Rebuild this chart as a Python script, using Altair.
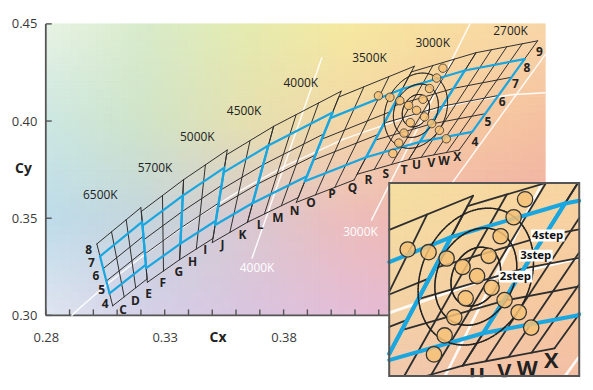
import altair as alt
import numpy as np
import pandas as pd

# ---------------- data ----------------
X_DOMAIN = [0.28, 0.49]
Y_DOMAIN = [0.30, 0.45]
X_TICK_VALUES = [0.28, 0.29, 0.30, 0.31, 0.32, 0.33, 0.34, 0.35, 0.36, 0.37, 0.38,
                 0.39, 0.40, 0.41, 0.42, 0.43, 0.44, 0.45, 0.46, 0.47, 0.48]
X_LABEL_VALUES = [0.28, 0.33, 0.38]
Y_TICK_VALUES = [0.30, 0.35, 0.40, 0.45]

# ANSI quadrangles (blue), corners bottom-left, bottom-right, top-right, top-left
QUAD_CCT = ["6500K", "5700K", "5000K", "4500K", "4000K", "3500K", "3000K", "2700K"]
QUAD_BL = [(0.3068, 0.3113), (0.3222, 0.3243), (0.3366, 0.3369), (0.3512, 0.3465),
           (0.3670, 0.3578), (0.3889, 0.3690), (0.4147, 0.3814), (0.4373, 0.3893)]
QUAD_BR = [(0.3221, 0.3261), (0.3366, 0.3369), (0.3515, 0.3487), (0.3670, 0.3578),
           (0.3898, 0.3716), (0.4147, 0.3814), (0.4373, 0.3893), (0.4593, 0.3944)]
QUAD_TR = [(0.3205, 0.3481), (0.3376, 0.3616), (0.3551, 0.3760), (0.3736, 0.3874),
           (0.4006, 0.4044), (0.4299, 0.4165), (0.4562, 0.4260), (0.4813, 0.4319)]
QUAD_TL = [(0.3028, 0.3304), (0.3207, 0.3462), (0.3376, 0.3616), (0.3548, 0.3736),
           (0.3736, 0.3874), (0.3996, 0.4015), (0.4299, 0.4165), (0.4562, 0.4260)]
QUAD_SUBCOLS = [3, 2, 2, 2, 3, 3, 3, 4]
QUAD_SUBROWS = [3, 3, 3, 3, 3, 3, 4, 4]

# Planckian locus (white curve)
LOCUS_X = [0.2866, 0.2952, 0.3064, 0.3135, 0.3221, 0.3324, 0.3451, 0.3608, 0.3805,
           0.4053, 0.4369, 0.4599, 0.4770, 0.4965]
LOCUS_Y = [0.2950, 0.3048, 0.3166, 0.3236, 0.3318, 0.3410, 0.3516, 0.3636, 0.3768,
           0.3907, 0.4041, 0.4106, 0.4137, 0.4149]

# white straight lines (isotherms)
ISO_X1 = [0.36674, 0.41695, 0.43649]
ISO_Y1 = [0.32954, 0.34900, 0.34388]
ISO_X2 = [0.39603, 0.45837, 0.49000]
ISO_Y2 = [0.43246, 0.45000, 0.43420]

ISO_LABELS = ["4000K", "3000K"]
ISO_LX = [0.36883, 0.41234]
ISO_LY = [0.32442, 0.34286]

CCT_LABELS = ["6500K", "5700K", "5000K", "4500K", "4000K", "3500K", "3000K", "2700K"]
CCT_LX = [0.30293, 0.32594, 0.34372, 0.36339, 0.38724, 0.41611, 0.44268, 0.47544]
CCT_LY = [0.36180, 0.37563, 0.39201, 0.40532, 0.41966, 0.43262, 0.44030, 0.44629]

COL_LETTERS = list("CDEFGHIJKLMNOPQRSTUVWX")
COL_LX = [0.31247, 0.31766, 0.32322, 0.32921, 0.33590, 0.34176, 0.34707, 0.35431,
          0.36268, 0.37008, 0.37762, 0.38460, 0.39155, 0.40033, 0.40900, 0.41569,
          0.42293, 0.43075, 0.43590, 0.44218, 0.44749, 0.45305]
COL_LY = [0.30256, 0.30717, 0.31111, 0.31659, 0.32253, 0.32765, 0.33364, 0.33620,
          0.34132, 0.34644, 0.34987, 0.35376, 0.35786, 0.36267, 0.36539, 0.36948,
          0.37255, 0.37460, 0.37716, 0.37834, 0.37921, 0.38141]

ROW_L = ["8", "7", "6", "5", "4"]
ROW_LX = [0.29800, 0.29920, 0.30110, 0.30350, 0.30500]
ROW_LY = [0.33364, 0.32683, 0.32033, 0.31316, 0.30599]
ROW_R = ["9", "8", "7", "6", "5", "4"]
ROW_RX = [0.48753, 0.48234, 0.47749, 0.47188, 0.46590, 0.46046]
ROW_RY = [0.43553, 0.42750, 0.41930, 0.40957, 0.39933, 0.38919]

# measured points
DOT_X = [0.41987, 0.42469, 0.42887, 0.43255, 0.43590, 0.43925, 0.44226, 0.44552, 0.44841,
         0.43858, 0.44134, 0.44435, 0.44699, 0.43326, 0.43063, 0.42841, 0.42594]
DOT_Y = [0.41300, 0.41224, 0.41045, 0.40804, 0.40548, 0.40215, 0.39867, 0.39524, 0.39089,
         0.41121, 0.41674, 0.42212, 0.42719, 0.39918, 0.39380, 0.38868, 0.38331]

# MacAdam-type ellipses
ELL_NAMES = ["2step", "3step", "4step"]
ELL_SCALE = [0.43, 0.71, 1.0]
ELL_CX, ELL_CY = 0.43561, 0.40532
ELL_MAJOR = (0.00707, 0.01823)
ELL_MINOR = (-0.01130, 0.00655)
STEP_LX = [0.44477, 0.44946, 0.45222]
STEP_LY = [0.40532, 0.41126, 0.41695]

# magnified inset: source window (main coords) and where it is drawn
INSET_SRC = (0.4156, 0.4595, 0.3772, 0.4318)
INSET_DST = (0.4244, 0.5043, 0.2688, 0.3681)

# background colour anchors
BG_X = [0.28, 0.3218, 0.3636, 0.4054, 0.4473, 0.49]
BG_Y = [0.45, 0.40, 0.35, 0.30]
BG_C = [
    ["#e8f3e4", "#d8ebca", "#e4ebb0", "#f5e9a0", "#f8dea0", "#f8d6a8"],
    ["#cce7e2", "#d0e4c8", "#e5e0b0", "#f3d7a6", "#f6cba0", "#f5c0a0"],
    ["#bddcea", "#c5d5dc", "#d9c8d0", "#ecbdbc", "#f0b5ac", "#f0b0a4"],
    ["#e0e5f1", "#d5d0e8", "#d9c5e0", "#e3bdd8", "#e9b8cc", "#ecb4c4"],
]

FONT = "Open Sans"
W, H = 502, 293

# ---------------- helpers ----------------
def lerp(p, q, t):
    return (p[0] + (q[0] - p[0]) * t, p[1] + (q[1] - p[1]) * t)


def clip_seg(seg, box):
    (x0, y0), (x1, y1) = seg
    xmin, xmax, ymin, ymax = box
    dx, dy = x1 - x0, y1 - y0
    t0, t1 = 0.0, 1.0
    for p, q in ((-dx, x0 - xmin), (dx, xmax - x0), (-dy, y0 - ymin), (dy, ymax - y0)):
        if p == 0:
            if q < 0:
                return None
        else:
            t = q / p
            if p < 0:
                if t > t1:
                    return None
                t0 = max(t0, t)
            else:
                if t < t0:
                    return None
                t1 = min(t1, t)
    return ((x0 + t0 * dx, y0 + t0 * dy), (x0 + t1 * dx, y0 + t1 * dy))


def clip_all(segs, box):
    out = []
    for s in segs:
        c = clip_seg(s, box)
        if c is not None:
            out.append(c)
    return out


SX0, SX1, SY0, SY1 = INSET_SRC
DX0, DX1, DY0, DY1 = INSET_DST
KX = (DX1 - DX0) / (SX1 - SX0)
KY = (DY1 - DY0) / (SY1 - SY0)
MAG = (KX + KY) / 2


def to_inset(p):
    return (DX0 + (p[0] - SX0) * KX, DY0 + (p[1] - SY0) * KY)


def from_inset(p):
    return (SX0 + (p[0] - DX0) / KX, SY0 + (p[1] - DY0) / KY)


def inset_segs(segs):
    return [(to_inset(a), to_inset(b)) for a, b in clip_all(segs, (SX0, SX1, SY0, SY1))]


def hex2rgb(h):
    return np.array([int(h[i:i + 2], 16) for i in (1, 3, 5)], float)


BG_RGB = np.array([[hex2rgb(c) for c in row] for row in BG_C])[::-1]  # ascending y
BG_YA = BG_Y[::-1]


def bg_color(x, y):
    x = min(max(x, BG_X[0]), BG_X[-1])
    y = min(max(y, BG_YA[0]), BG_YA[-1])
    i = int(min(max(np.searchsorted(BG_X, x) - 1, 0), len(BG_X) - 2))
    j = int(min(max(np.searchsorted(BG_YA, y) - 1, 0), len(BG_YA) - 2))
    tx = (x - BG_X[i]) / (BG_X[i + 1] - BG_X[i])
    ty = (y - BG_YA[j]) / (BG_YA[j + 1] - BG_YA[j])
    c = ((1 - tx) * (1 - ty) * BG_RGB[j, i] + tx * (1 - ty) * BG_RGB[j, i + 1]
         + (1 - tx) * ty * BG_RGB[j + 1, i] + tx * ty * BG_RGB[j + 1, i + 1])
    return "#%02x%02x%02x" % tuple(int(round(v)) for v in c)


XS = alt.Scale(domain=X_DOMAIN, nice=False, zero=False)
YS = alt.Scale(domain=Y_DOMAIN, nice=False, zero=False)
XAXIS = alt.Axis(values=X_LABEL_VALUES, format=".2f", domain=False, ticks=False, grid=False,
                 labelFont=FONT, labelFontSize=13, labelColor="#3a3a3a", labelPadding=22,
                 labelBaseline="middle", labelFlush=False, labelOverlap=False,
                 title="Cx", titleFont=FONT, titleFontSize=14, titleFontWeight="bold",
                 titleColor="#222", titleX=172.6, titleY=22, titleAlign="center",
                 titleBaseline="middle", zindex=0)
YAXIS = alt.Axis(values=Y_TICK_VALUES, format=".2f", domain=False, ticks=False, grid=False,
                 labelFont=FONT, labelFontSize=13, labelColor="#3a3a3a", labelPadding=9,
                 labelFlush=False, labelOverlap=False,
                 title="Cy", titleFont=FONT, titleFontSize=14, titleFontWeight="bold",
                 titleColor="#222", titleAngle=0, titleX=-23, titleY=145.6,
                 titleAlign="center", titleBaseline="middle", zindex=0)


def ex(f="x"):
    return alt.X(f, type="quantitative", scale=XS, axis=XAXIS)


def ey(f="y"):
    return alt.Y(f, type="quantitative", scale=YS, axis=YAXIS)


def seg_layer(segs, color, width, opacity=1.0):
    df = pd.DataFrame({"x": [a[0] for a, b in segs], "y": [a[1] for a, b in segs],
                       "x2": [b[0] for a, b in segs], "y2": [b[1] for a, b in segs]})
    return alt.Chart(df).mark_rule(color=color, strokeWidth=width, strokeCap="round",
                                   opacity=opacity).encode(
        x=ex(), y=ey(), x2="x2", y2="y2")


def text_layer(df, size, weight="normal", color="#222"):
    return alt.Chart(df).mark_text(font=FONT, fontSize=size, fontWeight=weight, color=color,
                                   align="center", baseline="middle").encode(
        x=ex(), y=ey(), text="t:N")


def text_df(labels, xs, ys):
    return pd.DataFrame({"t": labels, "x": xs, "y": ys})


def inset_text_df(df):
    pts = [to_inset((x, y)) for x, y in zip(df["x"], df["y"])]
    out = pd.DataFrame({"t": df["t"], "x": [p[0] for p in pts], "y": [p[1] for p in pts]})
    keep = (out["x"] >= DX0) & (out["x"] <= DX1) & (out["y"] >= DY0 - 0.004) & (out["y"] <= DY1)
    return out[keep]


# ---------------- geometry ----------------
grid_segs, blue_segs = [], []
for bl, br, tr, tl, nc, nr in zip(QUAD_BL, QUAD_BR, QUAD_TR, QUAD_TL, QUAD_SUBCOLS, QUAD_SUBROWS):
    def node(c, r, bl=bl, br=br, tr=tr, tl=tl, nc=nc, nr=nr):
        return lerp(lerp(bl, tl, r / nr), lerp(br, tr, r / nr), c / nc)
    for r in range(-1, nr + 2):
        grid_segs.append((node(0, r), node(nc, r)))
    for c in range(nc + 1):
        grid_segs.append((node(c, -1), node(c, nr + 1)))
    blue_segs += [(bl, br), (br, tr), (tr, tl), (tl, bl)]

MAIN_BOX = (X_DOMAIN[0], X_DOMAIN[1], Y_DOMAIN[0], Y_DOMAIN[1])
locus_segs = [((LOCUS_X[i], LOCUS_Y[i]), (LOCUS_X[i + 1], LOCUS_Y[i + 1]))
              for i in range(len(LOCUS_X) - 1)]
iso_segs = [((ISO_X1[i], ISO_Y1[i]), (ISO_X2[i], ISO_Y2[i])) for i in range(len(ISO_X1))]
white_segs = clip_all(locus_segs + iso_segs, MAIN_BOX)

tt = np.linspace(0, 2 * np.pi, 145)
ell_segs = []
for k in ELL_SCALE:
    ex_ = ELL_CX + k * (ELL_MAJOR[0] * np.cos(tt) + ELL_MINOR[0] * np.sin(tt))
    ey_ = ELL_CY + k * (ELL_MAJOR[1] * np.cos(tt) + ELL_MINOR[1] * np.sin(tt))
    ell_segs += [((ex_[i], ey_[i]), (ex_[i + 1], ey_[i + 1])) for i in range(len(tt) - 1)]

# background cells
def bg_cells(x0, x1, y0, y1, nx, ny, mapper=None):
    rows = []
    xe = np.linspace(x0, x1, nx + 1)
    ye = np.linspace(y0, y1, ny + 1)
    for i in range(nx):
        for j in range(ny):
            cx, cy = (xe[i] + xe[i + 1]) / 2, (ye[j] + ye[j + 1]) / 2
            if mapper is not None:
                cx, cy = mapper((cx, cy))
            rows.append({"x": xe[i], "x2": xe[i + 1], "y": ye[j], "y2": ye[j + 1],
                         "c": bg_color(cx, cy)})
    return pd.DataFrame(rows)


def bg_layer(df):
    return alt.Chart(df).mark_rect(strokeWidth=0.8).encode(
        x=ex(), x2="x2", y=ey(), y2="y2",
        fill=alt.Fill("c:N", scale=None), stroke=alt.Stroke("c:N", scale=None))


DOT_FILL = "#f6c277"

layers = []
# main background
layers.append(bg_layer(bg_cells(X_DOMAIN[0], X_DOMAIN[1], Y_DOMAIN[0], Y_DOMAIN[1], 60, 36)))

# axis lines and inward ticks
layers.append(alt.Chart(pd.DataFrame({"x": X_TICK_VALUES})).mark_rule(
    color="#555", strokeWidth=1.4).encode(x=ex(), y=alt.value(H), y2=alt.value(H - 6)))
layers.append(alt.Chart(pd.DataFrame({"y": Y_TICK_VALUES})).mark_rule(
    color="#555", strokeWidth=1.4).encode(y=ey(), x=alt.value(0), x2=alt.value(6)))
layers.append(alt.Chart(pd.DataFrame({"a": [0]})).mark_rule(color="#555", strokeWidth=1.8).encode(
    x=alt.value(0), y=alt.value(0), y2=alt.value(H)))
layers.append(alt.Chart(pd.DataFrame({"a": [0]})).mark_rule(color="#555", strokeWidth=1.8).encode(
    x=alt.value(0), x2=alt.value(W), y=alt.value(H)))

# main content
layers.append(seg_layer(white_segs, "#ffffff", 1.5, 0.9))
layers.append(seg_layer(grid_segs, "#2e2e2e", 1.0))
layers.append(seg_layer(blue_segs, "#1aa7e0", 2.2))
layers.append(seg_layer(ell_segs, "#222222", 0.9))
dots = pd.DataFrame({"x": DOT_X, "y": DOT_Y})
layers.append(alt.Chart(dots).mark_point(shape="circle", filled=True, size=72, fill=DOT_FILL,
                                         fillOpacity=0.85, stroke="#333", strokeWidth=0.8,
                                         strokeOpacity=1).encode(x=ex(), y=ey()))

cct_df = text_df(CCT_LABELS, CCT_LX, CCT_LY)
iso_df = text_df(ISO_LABELS, ISO_LX, ISO_LY)
col_df = text_df(COL_LETTERS, COL_LX, COL_LY)
row_df = pd.concat([text_df(ROW_L, ROW_LX, ROW_LY), text_df(ROW_R, ROW_RX, ROW_RY)])
layers.append(text_layer(cct_df, 12, "normal", "#222"))
layers.append(text_layer(iso_df, 12, "normal", "#ffffff"))
layers.append(text_layer(col_df, 12, "bold", "#222"))
layers.append(text_layer(row_df, 12, "bold", "#222"))

# ---------------- inset ----------------
layers.append(bg_layer(bg_cells(DX0, DX1, DY0, DY1, 36, 36, from_inset)))
layers.append(seg_layer(inset_segs(locus_segs + iso_segs), "#ffffff", 1.5 * MAG, 0.9))
layers.append(seg_layer(inset_segs(grid_segs), "#2e2e2e", 1.0 * MAG))
layers.append(seg_layer(inset_segs(blue_segs), "#1aa7e0", 2.2 * MAG))
layers.append(seg_layer(inset_segs(ell_segs), "#222222", 0.8 * MAG))
idots = [to_inset(p) for p in zip(DOT_X, DOT_Y)]
layers.append(alt.Chart(pd.DataFrame({"x": [p[0] for p in idots], "y": [p[1] for p in idots]}))
              .mark_point(shape="circle", filled=True, size=72 * MAG * MAG, fill=DOT_FILL,
                          fillOpacity=0.85, stroke="#333", strokeWidth=1.3, strokeOpacity=1)
              .encode(x=ex(), y=ey()))
layers.append(text_layer(inset_text_df(col_df), 12 * MAG, "bold", "#222"))
step_df = inset_text_df(text_df(ELL_NAMES, STEP_LX, STEP_LY))
layers.append(alt.Chart(step_df).mark_point(
    shape="M-1,-0.353L1,-0.353L1,0.353L-1,0.353Z", filled=True, size=1156,
    fill="#ffffff", fillOpacity=1, strokeWidth=0, opacity=1).encode(x=ex(), y=ey()))
layers.append(text_layer(step_df, 11.5, "bold", "#111"))

# white mask under the inset (hides overflowing magnified text) and the inset frame
layers.append(alt.Chart(pd.DataFrame({"x": [DX0 - 0.004], "x2": [DX1 + 0.004],
                                      "y": [DY0 - 0.05], "y2": [DY0 - 0.0006]}))
              .mark_rect(fill="#ffffff", strokeWidth=0).encode(x=ex(), x2="x2", y=ey(), y2="y2"))
layers.append(alt.Chart(pd.DataFrame({"x": [DX0], "x2": [DX1], "y": [DY0], "y2": [DY1]}))
              .mark_rect(fillOpacity=0, stroke="#555555", strokeWidth=2)
              .encode(x=ex(), x2="x2", y=ey(), y2="y2"))

chart = alt.layer(*layers).properties(
    width=W, height=H,
    autosize=alt.AutoSizeParams(type="none"),
    padding={"left": 38, "top": 15, "right": 40, "bottom": 64},
).configure_view(strokeWidth=0)

chart.save("out.html", embed_options={"renderer": "svg", "actions": False})
